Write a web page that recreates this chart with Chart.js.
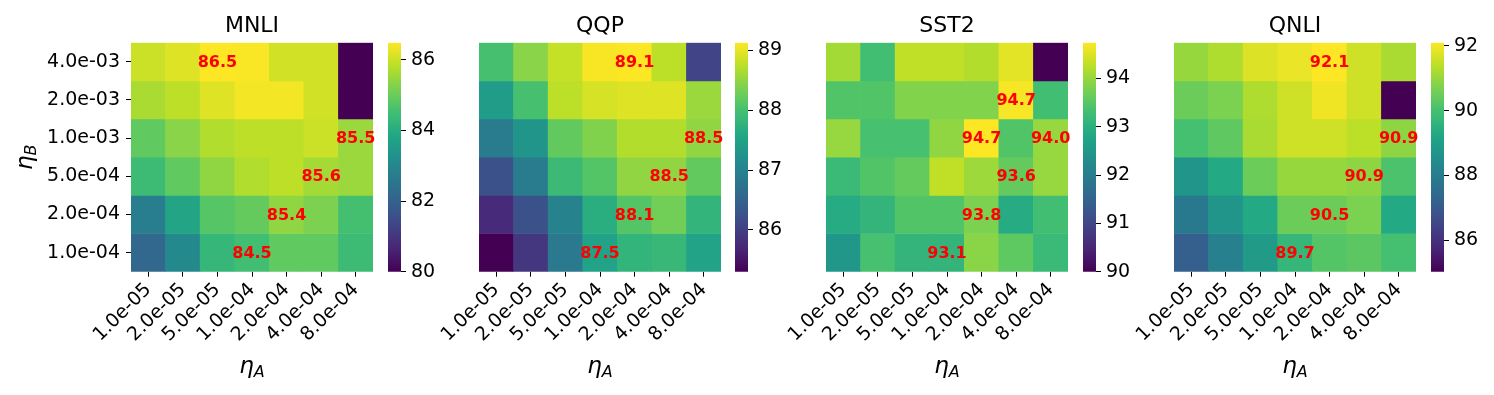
<!DOCTYPE html>
<html><head><meta charset="utf-8">
<script src="https://cdn.jsdelivr.net/npm/chart.js@4.4.1/dist/chart.umd.min.js"></script>
<style>
html,body{margin:0;padding:0;background:#fff;}
#fig{position:relative;width:1494px;height:395px;overflow:hidden;background:#fff;}
canvas{position:absolute;top:0;}
</style></head><body><div id="fig"></div>
<script>
// ---------- data ----------
const titles = ['MNLI', 'QQP', 'SST2', 'QNLI'];
const etaA = ['1.0e-05', '2.0e-05', '5.0e-05', '1.0e-04', '2.0e-04', '4.0e-04', '8.0e-04'];
const etaB = ['4.0e-03', '2.0e-03', '1.0e-03', '5.0e-04', '2.0e-04', '1.0e-04']; // top to bottom

const mnli = [
  [85.98, 86.18, 86.48, 86.44, 86.05, 86.05, 80.0],
  [85.66, 85.85, 86.18, 86.37, 86.37, 86.05, 80.0],
  [84.88, 85.33, 85.72, 85.85, 85.85, 85.98, 85.5],
  [84.42, 84.88, 85.40, 85.72, 85.85, 85.6, 85.5],
  [82.73, 83.77, 84.75, 84.94, 85.4, 85.20, 84.55],
  [82.15, 83.05, 84.29, 84.5, 84.88, 84.88, 84.42]
];
const qqp = [
  [88.0, 88.45, 88.8, 89.1, 89.13, 88.75, 86.07],
  [87.4, 88.0, 88.75, 88.9, 88.95, 88.95, 88.55],
  [86.9, 87.3, 88.2, 88.4, 88.7, 88.7, 88.5],
  [86.25, 86.9, 87.9, 88.1, 88.5, 88.5, 88.2],
  [85.75, 86.25, 87.0, 87.7, 88.1, 88.3, 87.8],
  [85.3, 85.9, 86.85, 87.5, 87.8, 87.85, 87.5]
];
const sst2 = [
  [94.1, 93.3, 94.3, 94.3, 94.2, 94.55, 90.0],
  [93.45, 93.45, 93.85, 93.85, 93.85, 94.7, 93.3],
  [94.0, 93.35, 93.35, 93.95, 94.74, 93.45, 94.0],
  [93.2, 93.45, 93.6, 94.3, 94.05, 93.6, 94.0],
  [92.9, 93.1, 93.45, 93.45, 93.8, 92.9, 93.3],
  [92.5, 93.35, 93.1, 93.1, 93.9, 93.55, 93.2]
];
const qnli = [
  [91.0, 91.25, 91.75, 91.9, 92.1, 91.6, 91.2],
  [90.5, 90.7, 91.25, 91.6, 91.95, 91.6, 85.03],
  [90.0, 90.35, 91.2, 91.6, 91.6, 91.4, 90.9],
  [88.7, 89.3, 90.5, 91.0, 91.0, 90.9, 90.1],
  [87.9, 88.7, 89.3, 90.5, 90.5, 90.7, 89.3],
  [87.15, 88.1, 88.9, 89.7, 90.2, 90.3, 90.0]
];
// highlighted cells [row, col]
const mnliMarks = [[0, 2], [2, 6], [3, 5], [4, 4], [5, 3]];
const qqpMarks = [[0, 4], [2, 6], [3, 5], [4, 4], [5, 3]];
const sst2Marks = [[1, 5], [2, 4], [2, 6], [3, 5], [4, 4], [5, 3]];
const qnliMarks = [[0, 4], [2, 6], [3, 5], [4, 4], [5, 3]];
// colorbar ticks
const mnliTicks = [80, 82, 84, 86];
const qqpTicks = [86, 87, 88, 89];
const sst2Ticks = [90, 91, 92, 93, 94];
const qnliTicks = [86, 88, 90, 92];

// ---------- colormap ----------
const VIRIDIS = ['#440154','#482576','#414487','#35608d','#2a788e','#21908c','#22a884','#43bf71','#7ad151','#bbdf27','#fde725'];
function hex2rgb(h){return [parseInt(h.slice(1,3),16),parseInt(h.slice(3,5),16),parseInt(h.slice(5,7),16)];}
const VRGB = VIRIDIS.map(hex2rgb);
function viridis(t){
  t = Math.max(0, Math.min(1, t));
  const p = t * (VRGB.length - 1);
  const i = Math.min(Math.floor(p), VRGB.length - 2);
  const f = p - i;
  const a = VRGB[i], b = VRGB[i + 1];
  return 'rgb(' + [0,1,2].map(k => Math.round(a[k] + (b[k] - a[k]) * f)).join(',') + ')';
}

// ---------- layout ----------
Chart.defaults.font.family = '"DejaVu Sans", sans-serif';
Chart.defaults.color = '#000';
const HM_LEFT = [131, 478.7, 826, 1174];
const HM_TOP = 42.7, HM_W = 242, HM_H = 229, CH = 395;
const YAXIS_W = 131, XAXIS_H = CH - HM_TOP - HM_H;
const CB_GAP = 256.5, CB_W = 13, CB_AX = 60;

const panels = [
  {title: titles[0], data: mnli, marks: mnliMarks, ticks: mnliTicks},
  {title: titles[1], data: qqp, marks: qqpMarks, ticks: qqpTicks},
  {title: titles[2], data: sst2, marks: sst2Marks, ticks: sst2Ticks},
  {title: titles[3], data: qnli, marks: qnliMarks, ticks: qnliTicks}
];

const fig = document.getElementById('fig');
function mkCanvas(left, width){
  const c = document.createElement('canvas');
  c.width = Math.ceil(width); c.height = CH;
  c.style.left = left + 'px'; c.style.width = Math.ceil(width) + 'px'; c.style.height = CH + 'px';
  fig.appendChild(c);
  return c.getContext('2d');
}

function drawEta(ctx, x, y, sub, rotate){
  ctx.save();
  ctx.translate(x, y);
  if (rotate) ctx.rotate(-Math.PI / 2);
  ctx.fillStyle = '#000';
  ctx.textBaseline = 'alphabetic';
  ctx.font = 'italic 23px "DejaVu Sans"';
  const w1 = ctx.measureText('η').width;
  ctx.font = 'italic 16px "DejaVu Sans"';
  const w2 = ctx.measureText(sub).width;
  const x0 = -(w1 + w2) / 2;
  ctx.font = 'italic 23px "DejaVu Sans"';
  ctx.textAlign = 'left';
  ctx.fillText('η', x0, 0);
  ctx.font = 'italic 16px "DejaVu Sans"';
  ctx.fillText(sub, x0 + w1, 4);
  ctx.restore();
}

panels.forEach((p, pi) => {
  const nR = p.data.length;
  const flat = p.data.flat();
  const vmin = Math.min(...flat), vmax = Math.max(...flat);
  const col = v => viridis((v - vmin) / (vmax - vmin));

  // ---- heatmap ----
  const left = HM_LEFT[pi] - YAXIS_W;
  const width = YAXIS_W + HM_W + 8;
  const ctx = mkCanvas(left, width);
  const datasets = p.data.map((row, r) => ({
    data: row.map(() => [nR - 1 - r, nR - r]),
    backgroundColor: row.map(col),
    borderWidth: 0,
    barPercentage: 1,
    categoryPercentage: 1,
    grouped: false
  }));
  const extras = {
    id: 'extras',
    afterDatasetsDraw(chart){
      const c = chart.ctx, xs = chart.scales.x, ys = chart.scales.y;
      c.save();
      c.font = 'bold 16px "DejaVu Sans"';
      c.fillStyle = '#ff0000';
      c.textAlign = 'center';
      c.textBaseline = 'middle';
      p.marks.forEach(([r, cc]) => {
        const v = p.data[r][cc];
        c.fillText(v.toFixed(1), xs.getPixelForValue(cc), ys.getPixelForValue(nR - 1 - r + 0.5) + 1);
      });
      c.restore();
    },
    afterDraw(chart){
      const c = chart.ctx, a = chart.chartArea;
      c.save();
      c.font = '22px "DejaVu Sans"';
      c.fillStyle = '#000';
      c.textAlign = 'center';
      c.textBaseline = 'alphabetic';
      c.fillText(p.title, (a.left + a.right) / 2, a.top - 11);
      c.restore();
      drawEta(c, (a.left + a.right) / 2, a.bottom + 101, 'A', false);
      if (pi === 0) drawEta(c, 32, (a.top + a.bottom) / 2, 'B', true);
    }
  };
  new Chart(ctx, {
    type: 'bar',
    data: {labels: etaA, datasets},
    options: {
      responsive: false, animation: false,
      layout: {padding: {top: HM_TOP, right: 8, left: 0, bottom: 0}},
      plugins: {legend: {display: false}, tooltip: {enabled: false}},
      scales: {
        x: {
          type: 'category',
          offset: true,
          grid: {display: true, offset: false, drawOnChartArea: false, drawTicks: true, tickLength: 5, color: '#000', lineWidth: 1},
          border: {display: false},
          ticks: {font: {size: 19}, color: '#000', minRotation: 45, maxRotation: 45, padding: 2, autoSkip: false},
          afterFit(s){ s.height = XAXIS_H; }
        },
        y: {
          type: 'linear', min: 0, max: nR,
          grid: {display: pi === 0, drawOnChartArea: false, drawTicks: true, tickLength: 5, color: '#000', lineWidth: 1},
          border: {display: false},
          ticks: {display: pi === 0, font: {size: 19}, color: '#000', padding: 6,
                  callback: v => etaB[nR - 1 - Math.floor(v)]},
          afterBuildTicks(s){ s.ticks = etaB.map((_, i) => ({value: i + 0.5})); },
          afterFit(s){ s.width = YAXIS_W; }
        }
      }
    },
    plugins: [extras]
  });

  // ---- colorbar ----
  const cctx = mkCanvas(HM_LEFT[pi] + CB_GAP, CB_W + CB_AX);
  new Chart(cctx, {
    type: 'bar',
    data: {labels: [''], datasets: [{
      data: [[vmin, vmax]],
      barPercentage: 1, categoryPercentage: 1, borderWidth: 0,
      backgroundColor(context){
        const ch = context.chart;
        if (!ch.chartArea) return VIRIDIS[5];
        const ys = ch.scales.y;
        const g = ch.ctx.createLinearGradient(0, ys.getPixelForValue(vmin), 0, ys.getPixelForValue(vmax));
        VIRIDIS.forEach((c, i) => g.addColorStop(i / (VIRIDIS.length - 1), c));
        return g;
      }
    }]},
    options: {
      responsive: false, animation: false,
      layout: {padding: {top: HM_TOP, bottom: XAXIS_H, left: 0, right: 0}},
      plugins: {legend: {display: false}, tooltip: {enabled: false}},
      scales: {
        x: {display: false},
        y: {
          type: 'linear', position: 'right', min: vmin, max: vmax,
          grid: {display: true, drawOnChartArea: false, drawTicks: true, tickLength: 5, color: '#000', lineWidth: 1},
          border: {display: false},
          ticks: {font: {size: 19}, color: '#000', padding: 5, callback: v => String(v)},
          afterBuildTicks(s){ s.ticks = p.ticks.map(v => ({value: v})); },
          afterFit(s){ s.width = CB_AX; }
        }
      }
    }
  });
});
</script>
</body></html>
